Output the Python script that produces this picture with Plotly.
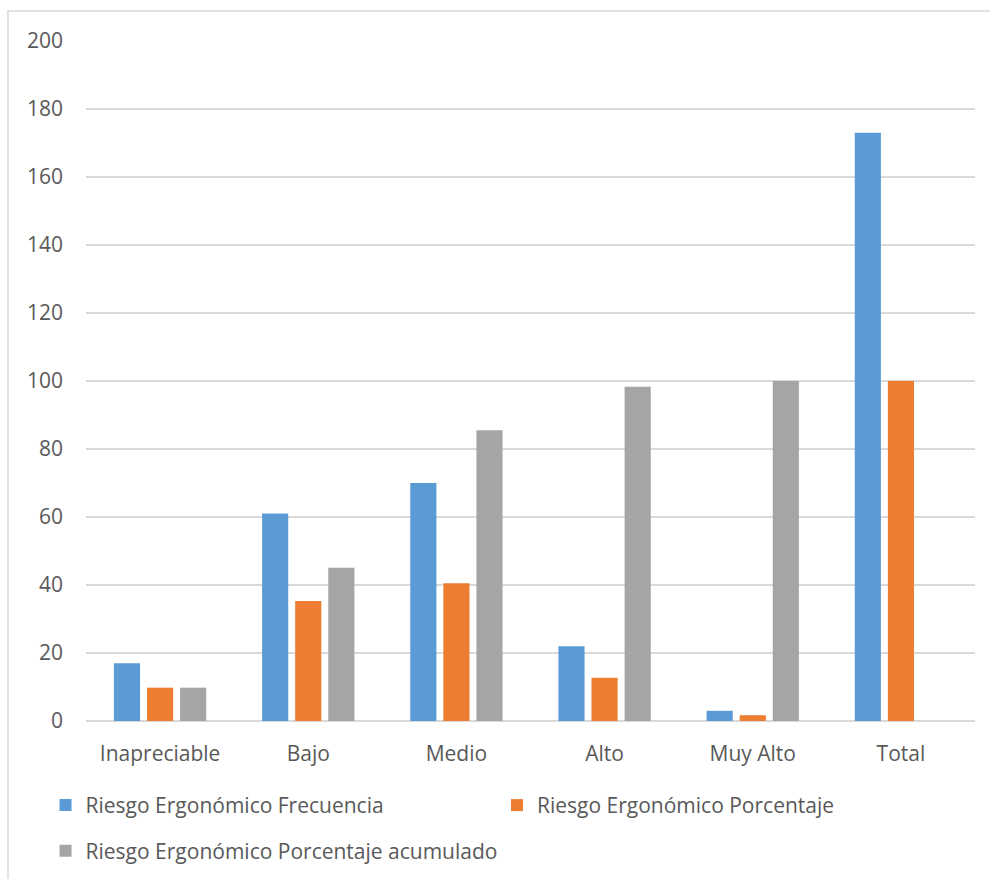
import plotly.graph_objects as go

categories = ["Inapreciable", "Bajo", "Medio", "Alto", "Muy Alto", "Total"]
frecuencia = [17, 61, 70, 22, 3, 173]
porcentaje = [9.8, 35.3, 40.5, 12.7, 1.7, 100]
acumulado = [9.8, 45.1, 85.5, 98.3, 100, None]

y_ticks = [0, 20, 40, 60, 80, 100, 120, 140, 160, 180, 200]

FONT = "Open Sans"
SIZE = 21
TEXT_COLOR = "#595959"
GRID = "#d9d9d9"
LEG_FONT = dict(family=FONT, size=SIZE, color=TEXT_COLOR)

fig = go.Figure()
fig.add_trace(go.Bar(x=categories, y=frecuencia, name="Riesgo Ergonómico Frecuencia",
                     marker=dict(color="#5B9BD5", line=dict(width=0)), legend="legend"))
fig.add_trace(go.Bar(x=categories, y=porcentaje, name="Riesgo Ergonómico Porcentaje",
                     marker=dict(color="#ED7D31", line=dict(width=0)), legend="legend3"))
fig.add_trace(go.Bar(x=categories, y=acumulado, name="Riesgo Ergonómico Porcentaje acumulado",
                     marker=dict(color="#A5A5A5", line=dict(width=0)), legend="legend2"))

fig.update_layout(
    width=990, height=879,
    margin=dict(l=86, r=15, t=41, b=158),
    paper_bgcolor="white", plot_bgcolor="white",
    showlegend=True,
    barmode="group", bargap=0.33, bargroupgap=0.21,
    font=dict(family=FONT, size=SIZE, color=TEXT_COLOR),
    xaxis=dict(showgrid=False, showline=False, ticks="", ticklabelstandoff=18,
               tickfont=dict(family=FONT, size=SIZE, color=TEXT_COLOR)),
    yaxis=dict(range=[0, 200], tickvals=y_ticks, showgrid=True, gridcolor=GRID, gridwidth=1.5,
               zeroline=True, zerolinecolor=GRID, zerolinewidth=1.5, showline=False, ticks="",
               ticklabelstandoff=22, tickfont=dict(family=FONT, size=SIZE, color=TEXT_COLOR)),
    legend=dict(orientation="h", xref="container", yref="container",
                x=0.046, xanchor="left", y=0.107, yanchor="top",
                itemwidth=30, font=LEG_FONT, bgcolor="rgba(0,0,0,0)"),
    legend3=dict(orientation="h", xref="container", yref="container",
                 x=0.502, xanchor="left", y=0.107, yanchor="top",
                 itemwidth=30, font=LEG_FONT, bgcolor="rgba(0,0,0,0)"),
    legend2=dict(orientation="h", xref="container", yref="container",
                 x=0.046, xanchor="left", y=0.055, yanchor="top",
                 itemwidth=30, font=LEG_FONT, bgcolor="rgba(0,0,0,0)"),
    shapes=[dict(type="rect", xref="paper", yref="paper",
                 x0=(8 - 86) / 889, x1=1.03, y0=-0.3, y1=(721 - 11) / 680,
                 line=dict(color=GRID, width=1.5), fillcolor="rgba(0,0,0,0)", layer="below")],
)

fig.write_html("out.html")
